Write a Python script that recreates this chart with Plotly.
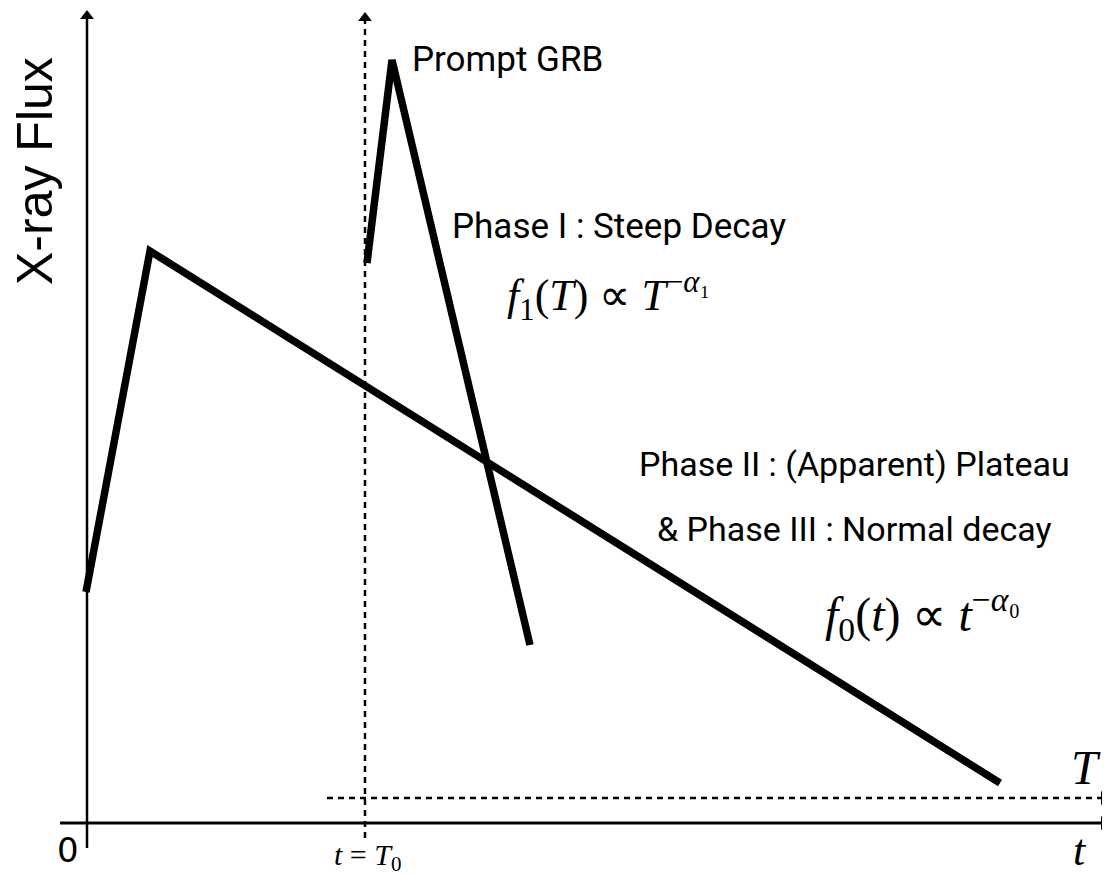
import plotly.graph_objects as go

# Schematic light-curve data (t along x, flux along y; origin at axis corner)
t_main = [-1, 63, 913]
flux_main = [231, 572, 40]

t_prompt = [280, 305, 443]
flux_prompt = [560, 763, 178]

# axes / guide lines (start, end)
t_axis_x = [-27, 1017]
t_axis_y = [0, 0]
f_axis_x = [0, 0]
f_axis_y = [-25, 807]
T0_line_x = [278, 278]
T0_line_y = [-15, 805]
T_line_x = [240, 1017]
T_line_y = [25, 25]

fig = go.Figure()

blk = "black"
def line(x, y, w, dash=None):
    fig.add_trace(go.Scatter(x=x, y=y, mode="lines", cliponaxis=False,
                             line=dict(color=blk, width=w, dash=dash), hoverinfo="skip"))

line(t_axis_x, t_axis_y, 3)
line(f_axis_x, f_axis_y, 2.5)
line(T0_line_x, T0_line_y, 2.5, "6px,5px")
line(T_line_x, T_line_y, 2.5, "6px,5px")

# arrow heads
fig.add_trace(go.Scatter(x=[t_axis_x[1], T_line_x[1]], y=[t_axis_y[1], T_line_y[1]],
                         mode="markers", cliponaxis=False,
                         marker=dict(symbol="triangle-right", size=12, color=blk, line=dict(width=0)),
                         hoverinfo="skip"))
fig.add_trace(go.Scatter(x=[f_axis_x[1], T0_line_x[1]], y=[f_axis_y[1], T0_line_y[1]],
                         mode="markers", cliponaxis=False,
                         marker=dict(symbol="triangle-up", size=12, color=blk, line=dict(width=0)),
                         hoverinfo="skip"))

# light curves
line(t_main, flux_main, 7.5)
line(t_prompt, flux_prompt, 7.5)

narrow = "Roboto, Liberation Sans, sans-serif"
serif = "Liberation Serif, Times New Roman, serif"

def ann(x, y, text, family, size, xanchor="center", yanchor="middle", angle=0):
    fig.add_annotation(x=x, y=y, xref="x", yref="y", text=text, showarrow=False,
                       font=dict(family=family, size=size, color=blk),
                       xanchor=xanchor, yanchor=yanchor, textangle=angle)

ann(-52, 652, "X-ray Flux", "Liberation Sans, Arial, sans-serif", 50, angle=-90)
ann(323, 764, "Prompt GRB", narrow, 35, xanchor="left")
ann(532, 597, "Phase I : Steep Decay", narrow, 35)
ann(521, 527, "<i>f</i><sub>1</sub>(<i>T</i>) ∝ <i>T</i><sup>−<i>α</i>₁</sup>", serif, 44)
ann(767, 359, "Phase II : (Apparent) Plateau", narrow, 34)
ann(767, 294, "&amp; Phase III : Normal decay", narrow, 34)
ann(835, 209, "<i>f</i><sub>0</sub>(<i>t</i>) ∝ <i>t</i><sup>−<i>α</i>₀</sup>", serif, 48)
ann(-19, -27, "0", "DejaVu Sans, sans-serif", 34)
ann(280, -34, "<i>t</i> = <i>T</i><sub>0</sub>", serif, 30)
ann(999, 56, "<i>T</i>", serif, 48)
ann(993, -27, "<i>t</i>", serif, 44)

# The page adds an 8px body margin; the figure is sized and ranged so that
# data units map 1:1 to window pixels.
fig.update_layout(
    width=1102, height=867,
    margin=dict(l=0, r=0, t=0, b=0),
    paper_bgcolor="white", plot_bgcolor="white",
    showlegend=False,
    xaxis=dict(range=[-79, 1023], visible=False, fixedrange=True),
    yaxis=dict(range=[-52, 815], visible=False, fixedrange=True),
)

fig.write_html("out.html")
